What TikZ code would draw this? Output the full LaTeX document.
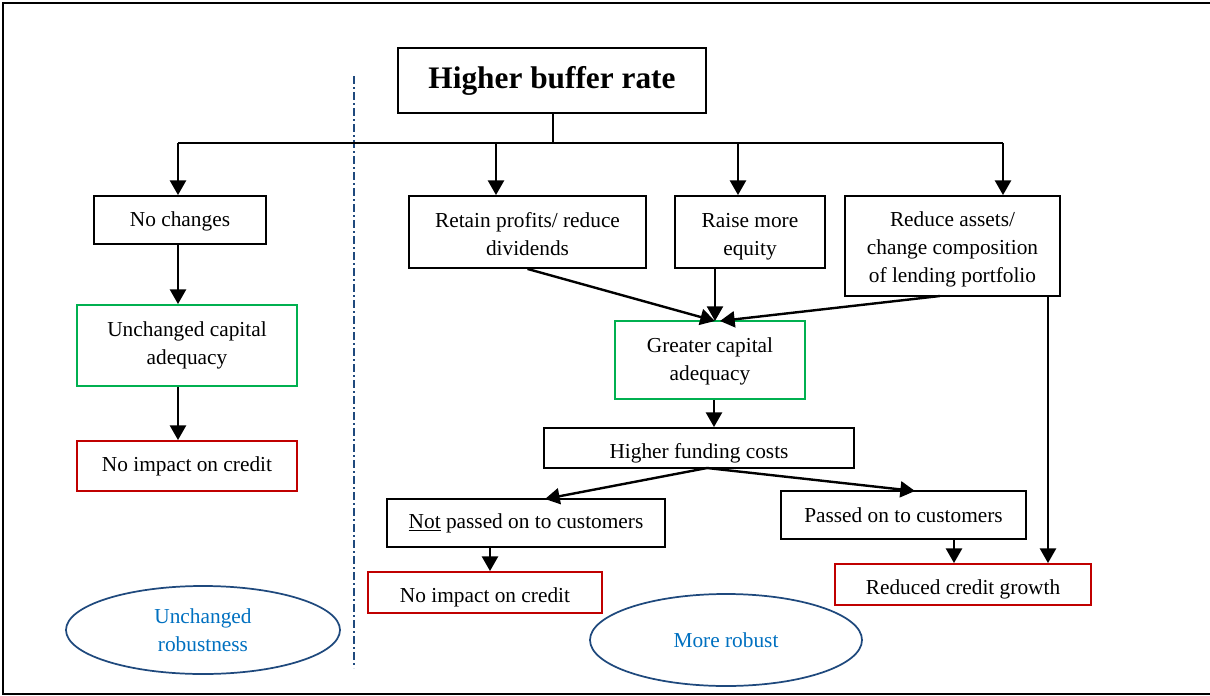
\documentclass[tikz,border=0pt]{standalone}
\usepackage{fontspec}
\setmainfont{Liberation Serif}
\usetikzlibrary{arrows.meta,shapes.geometric}
\definecolor{cgreen}{RGB}{0,176,80}
\definecolor{cred}{RGB}{192,0,0}
\definecolor{cblue}{RGB}{0,112,192}
\definecolor{cnavy}{RGB}{31,73,125}
\begin{document}
\begin{tikzpicture}[x=0.75pt,y=-0.75pt,
  box/.style={draw, line width=1.4pt, inner sep=0pt, align=center, font=\fontsize{16}{21}\selectfont},
  gbox/.style={box, draw=cgreen},
  rbox/.style={box, draw=cred},
  low/.style={text height=#1, text depth=3.6pt},
  ell/.style={ellipse, draw=cnavy, line width=1.3pt, inner sep=0pt, align=center, text=cblue, font=\fontsize{16}{21}\selectfont},
  arr/.style={line width=1.8pt, -{Triangle[length=11pt,width=12pt]}},
  ln/.style={line width=1.8pt},
  sz/.style 2 args={minimum width=#1*0.75pt, minimum height=#2*0.75pt}]
\useasboundingbox (0,0) rectangle (1210,696);
\clip (0,0) rectangle (1210,696);
\draw[line width=1.4pt] (3,3) rectangle (1216,694);

% nodes
\node[box, line width=1.9pt, sz={308}{65}, font=\fontsize{23.5}{26}\selectfont\bfseries] (title) at (552,80.5) {Higher buffer rate};
\node[box, sz={172}{48}, low=13pt] (nochg) at (180,220) {No changes};
\node[box, sz={237}{72}] (retain) at (527.5,232) {\rule{0pt}{14pt}Retain profits/ reduce\\dividends};
\node[box, sz={150}{72}] (raise) at (750,232) {\rule{0pt}{18pt}Raise more\\equity};
\node[box, sz={215}{100}] (reduce) at (952.5,246) {\rule{0pt}{15.5pt}Reduce assets/\\change composition\\of lending portfolio};
\node[gbox, sz={220}{81}] (ucap) at (187,345.5) {Unchanged capital\\adequacy};
\node[rbox, sz={220}{50}] (lnoimp) at (187,466) {No impact on credit};
\node[gbox, sz={190}{78}] (gcap) at (710,360) {\rule{0pt}{13pt}Greater capital\\adequacy};
\node[box, sz={310}{40}, low=20pt] (fund) at (699,448) {Higher funding costs};
\node[box, sz={278}{48}] (notp) at (526,523) {\underline{Not} passed on to customers};
\node[box, sz={245}{48}] (pass) at (903.5,515) {Passed on to customers};
\node[rbox, sz={234}{41}, low=19pt] (mnoimp) at (485,592.5) {No impact on credit};
\node[rbox, sz={256}{41}, low=19pt] (rcg) at (963,584.5) {Reduced credit growth};
\node[ell, sz={274}{88}] (ell1) at (203,630) {Unchanged\\robustness};
\node[ell, sz={272}{92}] (ell2) at (726,640) {More robust};

% divider
\coordinate (dtop) at (354,76);
\coordinate (dbot) at (354,668);
\draw[cnavy, line width=0.9pt, dash pattern=on 6pt off 2.5pt on 1pt off 2.5pt] (dtop) -- (dbot);

% top distribution
\coordinate (hy) at (553,143);
\coordinate (c1) at (178,143);
\coordinate (c2) at (496,143);
\coordinate (c3) at (738,143);
\coordinate (c4) at (1003,143);
\draw[ln] (title.south -| hy) -- (hy);
\draw[ln] (c1) -- (c4);
\draw[arr] (c1) -- (c1 |- nochg.north);
\draw[arr] (c2) -- (c2 |- retain.north);
\draw[arr] (c3) -- (c3 |- raise.north);
\draw[arr] (c4) -- (c4 |- reduce.north);

% left column
\coordinate (lx) at (178,0);
\draw[arr] (lx |- nochg.south) -- (lx |- ucap.north);
\draw[arr] (lx |- ucap.south) -- (lx |- lnoimp.north);

% to greater capital adequacy
\coordinate (gtop) at (715,321);
\coordinate (gtop2) at (720,321);
\coordinate (rs) at (940,296);
\draw[arr] (retain.south) -- (gtop);
\draw[arr] (gtop |- raise.south) -- (gtop);
\draw[arr] (rs) -- (gtop2);
\coordinate (gx) at (714,0);
\draw[arr] (gx |- gcap.south) -- (gx |- fund.north);

% funding split
\coordinate (fs) at (707,468);
\coordinate (nt) at (545,499);
\coordinate (pt) at (915,491);
\draw[arr] (fs) -- (nt);
\draw[arr] (fs) -- (pt);
\coordinate (nx) at (490,0);
\draw[arr] (nx |- notp.south) -- (nx |- mnoimp.north);
\coordinate (px) at (954,0);
\draw[arr] (px |- pass.south) -- (px |- rcg.north);
\coordinate (rx) at (1048,0);
\draw[arr] (rx |- reduce.south) -- (rx |- rcg.north);
\end{tikzpicture}
\end{document}
